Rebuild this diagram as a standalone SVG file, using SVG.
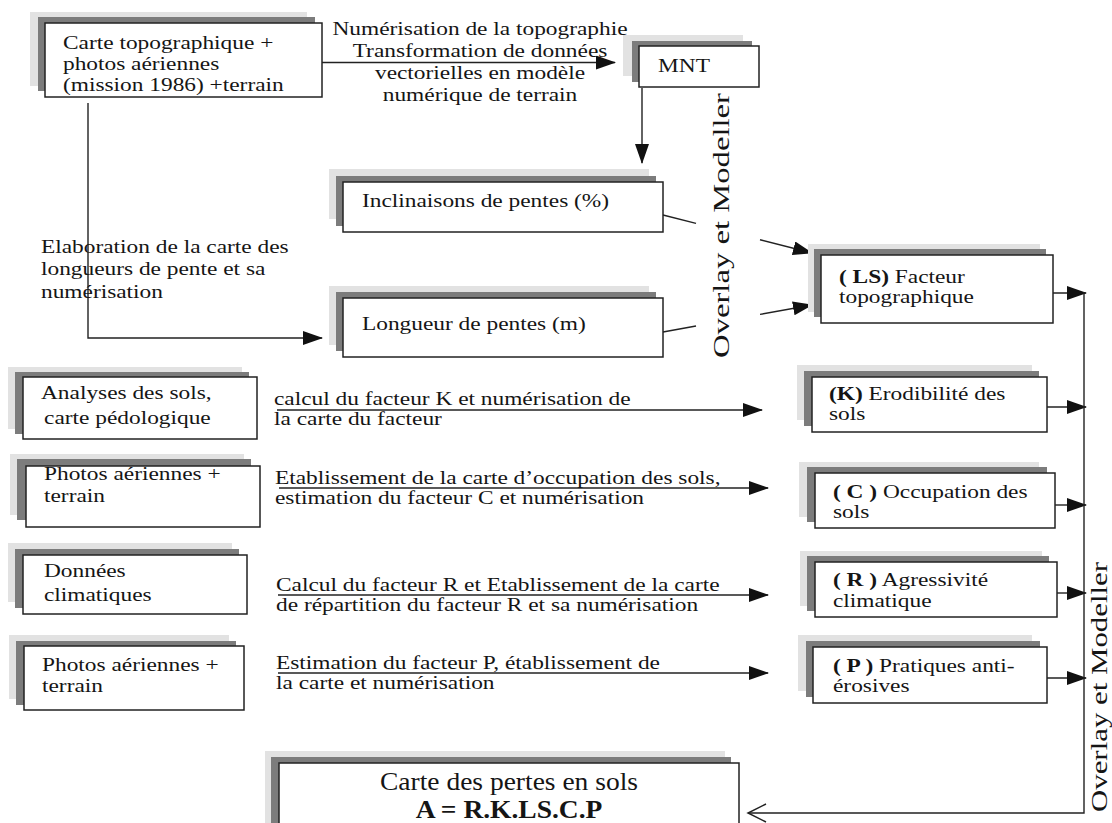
<svg xmlns="http://www.w3.org/2000/svg" width="1112" height="823" viewBox="0 0 1112 823">
<defs>
<style>
.lt{fill:#e2e2e2}
.dk{fill:#7c7c7c}
.bx{fill:#fff;stroke:#222;stroke-width:1.5}
text{font-family:"Liberation Serif","Times New Roman",serif;fill:#151515}
.t{font-size:19px}
.b{font-weight:bold}
.ln{fill:none;stroke:#222;stroke-width:1.4}
.vt{font-size:24px}
</style>
<marker id="ah" markerUnits="userSpaceOnUse" markerWidth="20" markerHeight="14" viewBox="0 0 20 14" refX="19" refY="7" orient="auto">
<path d="M0,0 L20,7 L0,14 z" fill="#111"/>
</marker>
<marker id="oh" markerUnits="userSpaceOnUse" markerWidth="22" markerHeight="22" viewBox="-2 -2 22 22" refX="18" refY="9" orient="auto">
<path d="M0,0 L18,9 L0,18" fill="none" stroke="#222" stroke-width="1.5"/>
</marker>
</defs>
<rect width="1112" height="823" fill="#fff"/>

<g id="connectors">
<line class="ln" x1="322" y1="62.5" x2="615" y2="62.5" marker-end="url(#ah)"/>
<line class="ln" x1="642" y1="88" x2="642" y2="163" marker-end="url(#ah)"/>
<polyline class="ln" points="88,103 88,338 322,338" marker-end="url(#ah)"/>
<line class="ln" x1="663" y1="215" x2="696" y2="223.4"/>
<line class="ln" x1="760" y1="239.7" x2="812" y2="253" marker-end="url(#ah)"/>
<line class="ln" x1="663" y1="332" x2="696" y2="326"/>
<line class="ln" x1="760" y1="314.4" x2="812" y2="305" marker-end="url(#ah)"/>
<line class="ln" x1="277" y1="410" x2="762" y2="410" marker-end="url(#ah)"/>
<line class="ln" x1="279" y1="488" x2="768" y2="488" marker-end="url(#ah)"/>
<line class="ln" x1="278" y1="595" x2="768" y2="595" marker-end="url(#ah)"/>
<line class="ln" x1="278" y1="673" x2="768" y2="673" marker-end="url(#ah)"/>
<line class="ln" x1="1053" y1="293" x2="1086" y2="293" marker-end="url(#ah)"/>
<line class="ln" x1="1047" y1="407" x2="1086" y2="407" marker-end="url(#ah)"/>
<line class="ln" x1="1055" y1="505" x2="1086" y2="505" marker-end="url(#ah)"/>
<line class="ln" x1="1057" y1="593" x2="1086" y2="593" marker-end="url(#ah)"/>
<line class="ln" x1="1047" y1="678" x2="1086" y2="678" marker-end="url(#ah)"/>
<polyline class="ln" points="1084,292 1084,813 748,813" marker-end="url(#oh)"/>
</g>

<g id="labels">
<text class="t" transform="translate(480 35) scale(1.23 1)" text-anchor="middle"><tspan x="0" y="0">Numérisation de la topographie</tspan><tspan x="0" y="22">Transformation de données</tspan><tspan x="0" y="44">vectorielles en modèle</tspan><tspan x="0" y="66">numérique de terrain</tspan></text>
<text class="t" transform="translate(41 253) scale(1.23 1)"><tspan x="0" y="0">Elaboration de la carte des</tspan><tspan x="0" y="22">longueurs de pente et sa</tspan><tspan x="0" y="45">numérisation</tspan></text>
<text class="t" transform="translate(274 405) scale(1.23 1)"><tspan x="0" y="0">calcul du facteur K et numérisation de</tspan><tspan x="0" y="20">la carte du facteur</tspan></text>
<text class="t" transform="translate(275 484) scale(1.23 1)"><tspan x="0" y="0">Etablissement de la carte d’occupation des sols,</tspan><tspan x="0" y="20">estimation du facteur C et  numérisation</tspan></text>
<text class="t" transform="translate(276 591) scale(1.23 1)"><tspan x="0" y="0">Calcul du facteur R et Etablissement de la carte</tspan><tspan x="0" y="20">de répartition du facteur R et sa numérisation</tspan></text>
<text class="t" transform="translate(276 669) scale(1.23 1)"><tspan x="0" y="0">Estimation du facteur P,  établissement de</tspan><tspan x="0" y="20">la carte et numérisation</tspan></text>
<text class="vt" transform="translate(729 358) rotate(-90)" textLength="265" lengthAdjust="spacingAndGlyphs">Overlay et Modeller</text>
<text class="vt" transform="translate(1107 812) rotate(-90)" textLength="250" lengthAdjust="spacingAndGlyphs">Overlay et Modeller</text>
</g>

<g id="n_carte">
<rect class="lt" x="30" y="12" width="277" height="74"/>
<rect class="dk" x="38" y="17" width="277" height="74"/>
<rect class="bx" x="45" y="23" width="277" height="74"/>
<text class="t" transform="translate(63 49) scale(1.23 1)"><tspan x="0" y="0">Carte topographique +</tspan><tspan x="0" y="21">photos aériennes</tspan><tspan x="0" y="42">(mission 1986) +terrain</tspan></text>
</g>

<g id="n_mnt">
<rect class="lt" x="623" y="35" width="120" height="41"/>
<rect class="dk" x="632" y="41" width="120" height="41"/>
<rect class="bx" x="639" y="46" width="120" height="41"/>
<text class="t" transform="translate(658 72) scale(1.23 1)">MNT</text>
</g>

<g id="n_incl">
<rect class="lt" x="329" y="169" width="320" height="50"/>
<rect class="dk" x="336" y="176" width="320" height="50"/>
<rect class="bx" x="343" y="182" width="320" height="50"/>
<text class="t" transform="translate(362 207) scale(1.23 1)">Inclinaisons de pentes (%)</text>
</g>

<g id="n_long">
<rect class="lt" x="329" y="286" width="320" height="59"/>
<rect class="dk" x="336" y="292" width="320" height="59"/>
<rect class="bx" x="343" y="298" width="320" height="59"/>
<text class="t" transform="translate(362 330) scale(1.23 1)">Longueur de pentes (m)</text>
</g>

<g id="n_ls">
<rect class="lt" x="808" y="244" width="232" height="68"/>
<rect class="dk" x="814" y="249" width="232" height="68"/>
<rect class="bx" x="821" y="255" width="232" height="68"/>
<text class="t" transform="translate(839 283) scale(1.23 1)"><tspan x="0" y="0"><tspan class="b">( LS)</tspan> Facteur</tspan><tspan x="0" y="20">topographique</tspan></text>
</g>

<g id="n_k">
<rect class="lt" x="797" y="365" width="235" height="55"/>
<rect class="dk" x="804" y="371" width="235" height="55"/>
<rect class="bx" x="812" y="377" width="235" height="55"/>
<text class="t" transform="translate(829 400) scale(1.23 1)"><tspan x="0" y="0"><tspan class="b">(K)</tspan> Erodibilité des</tspan><tspan x="0" y="20">sols</tspan></text>
</g>

<g id="n_c">
<rect class="lt" x="799" y="462" width="240" height="55"/>
<rect class="dk" x="807" y="467" width="240" height="55"/>
<rect class="bx" x="815" y="473" width="240" height="55"/>
<text class="t" transform="translate(833 498) scale(1.23 1)"><tspan x="0" y="0"><tspan class="b">( C )</tspan> Occupation des</tspan><tspan x="0" y="20">sols</tspan></text>
</g>

<g id="n_r">
<rect class="lt" x="800" y="551" width="242" height="55"/>
<rect class="dk" x="807" y="556" width="242" height="55"/>
<rect class="bx" x="815" y="562" width="242" height="55"/>
<text class="t" transform="translate(833 586) scale(1.23 1)"><tspan x="0" y="0"><tspan class="b">( R )</tspan> Agressivité</tspan><tspan x="0" y="21">climatique</tspan></text>
</g>

<g id="n_p">
<rect class="lt" x="798" y="635" width="234" height="56"/>
<rect class="dk" x="806" y="641" width="234" height="56"/>
<rect class="bx" x="813" y="647" width="234" height="56"/>
<text class="t" transform="translate(833 672) scale(1.23 1)"><tspan x="0" y="0"><tspan class="b">( P )</tspan> Pratiques anti-</tspan><tspan x="0" y="20">érosives</tspan></text>
</g>

<g id="n_analyses">
<rect class="lt" x="8" y="367" width="234" height="62"/>
<rect class="dk" x="15" y="372" width="234" height="62"/>
<rect class="bx" x="23" y="377" width="234" height="62"/>
<text class="t" transform="translate(41 399) scale(1.23 1)"><tspan x="0" y="0">Analyses des sols,</tspan><tspan x="2.5" y="25">carte pédologique</tspan></text>
</g>

<g id="n_photos1">
<rect class="lt" x="10" y="454" width="234" height="61"/>
<rect class="dk" x="17" y="459" width="234" height="61"/>
<rect class="bx" x="26" y="466" width="234" height="61"/>
<text class="t" transform="translate(44 480) scale(1.23 1)"><tspan x="0" y="0">Photos aériennes +</tspan><tspan x="0" y="22">terrain</tspan></text>
</g>

<g id="n_donnees">
<rect class="lt" x="8" y="543" width="224" height="59"/>
<rect class="dk" x="15" y="549" width="224" height="59"/>
<rect class="bx" x="23" y="555" width="224" height="59"/>
<text class="t" transform="translate(44 577) scale(1.23 1)"><tspan x="0" y="0">Données</tspan><tspan x="0" y="24">climatiques</tspan></text>
</g>

<g id="n_photos2">
<rect class="lt" x="9" y="635" width="220" height="64"/>
<rect class="dk" x="16" y="641" width="220" height="64"/>
<rect class="bx" x="24" y="646" width="220" height="64"/>
<text class="t" transform="translate(42 671) scale(1.23 1)"><tspan x="0" y="0">Photos aériennes +</tspan><tspan x="0" y="21">terrain</tspan></text>
</g>

<g id="n_result">
<rect class="lt" x="265" y="751" width="460" height="80"/>
<rect class="dk" x="271" y="757" width="460" height="80"/>
<rect class="bx" x="279" y="763" width="460" height="80"/>
<text transform="translate(509 790) scale(1.1 1)" text-anchor="middle" style="font-size:25px"><tspan x="0" y="0">Carte des pertes en sols</tspan><tspan x="0" y="28" class="b">A = R.K.LS.C.P</tspan></text>
</g>
</svg>
